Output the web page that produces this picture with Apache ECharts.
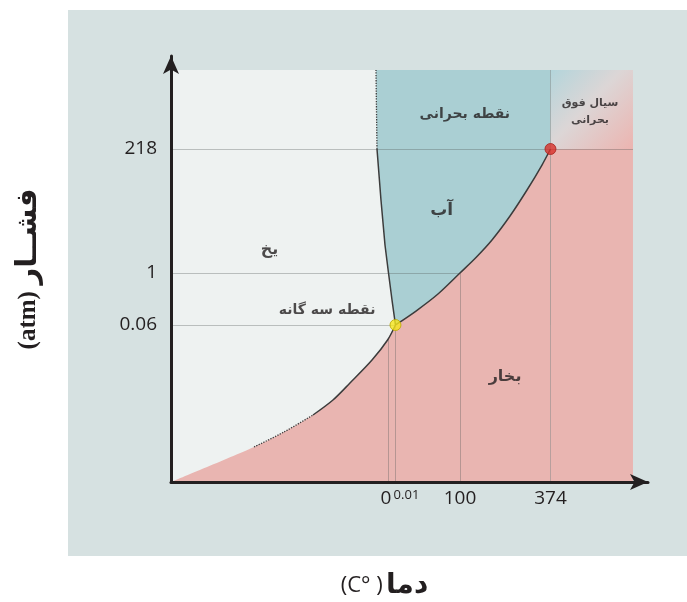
<!DOCTYPE html>
<html>
<head>
<meta charset="utf-8">
<script src="https://cdn.jsdelivr.net/npm/echarts@6/dist/echarts.min.js"></script>
<style>
  html, body { margin: 0; padding: 0; background: #fff; }
  #main { width: 687px; height: 602px; }
</style>
</head>
<body>
<div id="main"></div>
<script>
// schematic axes: 0..100 covers the coloured area
const tempTickPos = [47.08, 48.59, 62.55, 82.14];
const tempTickLabels = ["0", "0.01", "100", "374"];
const presTickPos = [38.11, 50.73, 80.83];
const presTickLabels = ["0.06", "1", "218"];

const triplePoint = [48.59, 38.11];
const criticalPoint = [82.14, 80.83];

// ice / liquid boundary, from the triple point upwards
const meltCurve = [[48.59, 38.11], [47.84, 44.17], [47.08, 50.73], [46.32, 57.52], [45.45, 68.45], [44.59, 80.83]];
const meltDotted = [[44.59, 80.83], [44.37, 100]];
// liquid / vapour boundary
const boilCurve = [[48.59, 38.11], [53.03, 41.50], [57.79, 45.63], [62.55, 50.73], [66.02, 54.49], [69.48, 58.74],
  [73.38, 64.56], [77.06, 70.87], [80.30, 76.94], [82.14, 80.83]];
// ice / vapour boundary, left to right
const sublTail = [[0, 0], [17.97, 8.50]];
const sublDotted = [[17.97, 8.50], [24.46, 12.14], [30.74, 16.26]];
const sublCurve = [[30.74, 16.26], [35.06, 19.90], [38.74, 24.03], [43.51, 29.61], [46.88, 34.47], [48.59, 38.11]];

const phaseLabels = [
  { name: "نقطه بحرانی", value: [63.6, 89.3], size: 14 },
  { name: "سیال فوق\nبحرانی", value: [90.7, 90.0], size: 11 },
  { name: "آب", value: [58.6, 66.0], size: 17 },
  { name: "یخ", value: [21.3, 56.3], size: 16 },
  { name: "نقطه سه گانه", value: [33.8, 41.7], size: 14 },
  { name: "بخار", value: [72.3, 25.6], size: 16 }
];

const iceArea = [[0, 0], [100, 0], [100, 100], [0, 100]];
const liquidArea = [].concat(meltCurve, meltDotted, [[82.14, 100], [82.14, 38.11]]);
const superArea = [[82.14, 80.83], [100, 80.83], [100, 100], [82.14, 100]];
const vapourRight = [[82.14, 0], [100, 0], [100, 80.83], [82.14, 80.83]];
const vapourEdge = [].concat(sublTail, sublDotted.slice(1), sublCurve.slice(1), boilCurve.slice(1));

const refSegments = [
  [[0, presTickPos[2]], [100, presTickPos[2]]],
  [[0, presTickPos[1]], [tempTickPos[2], presTickPos[1]]],
  [[0, presTickPos[0]], triplePoint],
  [[tempTickPos[0], 0], [tempTickPos[0], 34.9]],
  [[tempTickPos[1], 0], triplePoint],
  [[tempTickPos[2], 0], [tempTickPos[2], presTickPos[1]]],
  [[tempTickPos[3], 0], [tempTickPos[3], 100]]
];

const FA = '"DejaVu Sans", "Noto Sans", sans-serif';
const NUM = '"Open Sans", sans-serif';
const INK = '#231f20';
const PINK = '#e9b5b1';
const SMOOTH = 0.3;

let myChart = echarts.init(document.getElementById('main'));

function polySeries(points, fill, z) {
  return {
    type: 'custom',
    z: z,
    silent: true,
    data: [[0, 0]],
    renderItem: function (params, api) {
      return {
        type: 'polygon',
        shape: { points: points.map(function (p) { return api.coord(p); }) },
        style: { fill: fill }
      };
    }
  };
}

function curveSeries(points, dotted, smooth) {
  return {
    type: 'line',
    z: 5,
    silent: true,
    symbol: 'none',
    smooth: smooth,
    data: points,
    lineStyle: { color: '#3c3c3c', width: dotted ? 1.3 : 1.5, type: dotted ? 'dotted' : 'solid' }
  };
}

let option = {
  backgroundColor: '#ffffff',
  animation: false,
  graphic: [{
    type: 'rect',
    z: -100,
    shape: { x: 68, y: 10, width: 619, height: 546 },
    style: { fill: '#d6e1e1' }
  }],
  grid: { left: 171, top: 56, width: 477, height: 426, outerBoundsMode: 'none' },
  xAxis: {
    type: 'value',
    min: 0,
    max: 103.25,
    z: 20,
    axisLine: {
      lineStyle: { color: INK, width: 3 },
      symbol: ['none', 'arrow'],
      symbolSize: [12, 18]
    },
    axisTick: { show: false },
    splitLine: { show: false },
    axisLabel: {
      customValues: tempTickPos,
      color: INK,
      fontSize: 19,
      fontFamily: NUM,
      margin: 7,
      formatter: function (v) {
        const i = tempTickPos.indexOf(v);
        if (i === 1) return '{sup|' + tempTickLabels[i] + '}';
        if (i === 0) return '{zero|' + tempTickLabels[i] + '}';
        return tempTickLabels[i];
      },
      rich: {
        sup: { fontSize: 13, color: INK, fontFamily: NUM, padding: [0, 0, 0, 22] },
        zero: { fontSize: 19, color: INK, fontFamily: NUM, padding: [0, 5, 0, 0] }
      }
    },
    name: '{a|(C° )} {b|دما}',
    nameLocation: 'middle',
    nameGap: 90,
    nameTextStyle: {
      padding: [0, 50, 0, 0],
      rich: {
        a: { fontSize: 22, color: INK, fontFamily: NUM },
        b: { fontSize: 28, color: INK, fontWeight: 'bold', fontFamily: FA }
      }
    }
  },
  yAxis: {
    type: 'value',
    min: 0,
    max: 103.4,
    z: 20,
    axisLine: {
      lineStyle: { color: INK, width: 3 },
      symbol: ['none', 'arrow'],
      symbolSize: [12, 18]
    },
    axisTick: { show: false },
    splitLine: { show: false },
    axisLabel: {
      customValues: presTickPos,
      color: INK,
      fontSize: 19,
      fontFamily: NUM,
      margin: 14,
      formatter: function (v) {
        return presTickLabels[presTickPos.indexOf(v)];
      }
    },
    name: '{a|(atm)}  {b|فشــار}',
    nameLocation: 'middle',
    nameRotate: 90,
    nameGap: 128,
    nameTextStyle: {
      rich: {
        a: { fontSize: 25, color: INK, fontWeight: 'bold', fontFamily: '"Liberation Serif", serif' },
        b: { fontSize: 29, color: INK, fontWeight: 'bold', fontFamily: FA }
      }
    }
  },
  series: [
    polySeries(iceArea, '#eef2f1', 1),
    polySeries(liquidArea, '#aacfd3', 2),
    polySeries(superArea, new echarts.graphic.LinearGradient(0, 0, 1, 1, [
      { offset: 0, color: '#b3d5db' },
      { offset: 0.45, color: '#dcd6d6' },
      { offset: 1, color: '#ecb4b0' }
    ]), 2),
    {
      // vapour: everything under the sublimation + boiling curves
      type: 'line',
      z: 3,
      silent: true,
      symbol: 'none',
      smooth: SMOOTH,
      data: vapourEdge,
      lineStyle: { width: 0, opacity: 0 },
      areaStyle: { color: PINK, opacity: 1 }
    },
    polySeries(vapourRight, PINK, 3),
    {
      type: 'line',
      z: 4,
      silent: true,
      data: [],
      markLine: {
        silent: true,
        symbol: 'none',
        label: { show: false },
        lineStyle: { color: 'rgba(80,85,85,0.33)', width: 1, type: 'solid' },
        data: refSegments.map(function (s) { return [{ coord: s[0] }, { coord: s[1] }]; })
      }
    },
    curveSeries(meltCurve, false, false),
    curveSeries(meltDotted, true, false),
    curveSeries(boilCurve, false, SMOOTH),
    curveSeries(sublCurve, false, SMOOTH),
    curveSeries(sublDotted, true, SMOOTH),
    {
      type: 'scatter',
      z: 6,
      silent: true,
      symbolSize: 11,
      data: [
        { value: triplePoint, itemStyle: { color: '#f6e61c', borderColor: '#b9a800', borderWidth: 1 } },
        { value: criticalPoint, itemStyle: { color: '#d8312b', borderColor: '#a8221d', borderWidth: 1 } }
      ]
    },
    {
      type: 'scatter',
      z: 7,
      silent: true,
      symbolSize: 0,
      data: phaseLabels.map(function (d) {
        return {
          name: d.name,
          value: d.value,
          label: { fontSize: d.size }
        };
      }),
      label: {
        show: true,
        position: 'inside',
        formatter: '{b}',
        color: INK,
        fontWeight: 'bold',
        fontFamily: FA,
        lineHeight: 17
      }
    }
  ]
};

window.onresize = function () {
  myChart.resize();
};
myChart.setOption(option);
</script>
</body>
</html>
